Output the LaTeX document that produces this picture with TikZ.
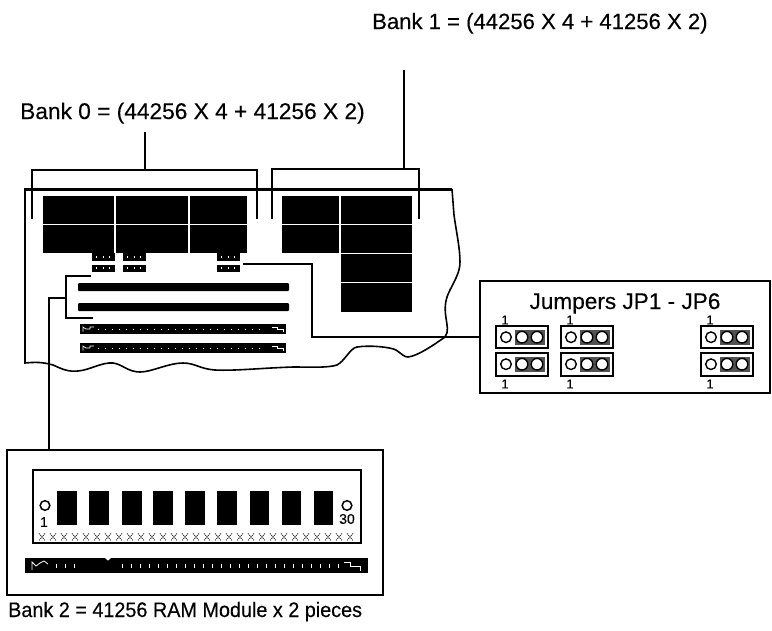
\documentclass[tikz,border=0pt]{standalone}
\usepackage{fontspec}
\setmainfont{Liberation Sans}[FakeBold=0.25]
\begin{document}
\begin{tikzpicture}[x=1pt,y=-1pt,line cap=butt,
  leader/.style={draw=black,line width=1.5pt},
  frame/.style={draw=black,line width=2.7pt,fill=white},
  label/.style={inner sep=0pt,anchor=base west,text=black},
  num/.style={inner sep=0pt,font=\fontsize{13}{13}\selectfont,text=black}]
\useasboundingbox (0,0) rectangle (772,630);
\fill[white] (0,0) rectangle (772,630);
\newcommand{\blk}[4]{\fill[black] (#1,#2) rectangle (#3,#4);}
% headings
\node[label,font=\fontsize{22.1}{22}\selectfont] (bankone) at (372,29) {Bank 1 = (44256 X 4 + 41256 X 2)};
\node[label,font=\fontsize{22.7}{22}\selectfont] (bankzero) at (20,119) {Bank 0 = (44256 X 4 + 41256 X 2)};
\node[label,font=\fontsize{21}{22}\selectfont] (banktwo) at (8,617) {\scalebox{.943}[1]{Bank 2 = 41256 RAM Module x 2 pieces}};
% board outline
\coordinate (btl) at (25,189);
\coordinate (btr) at (452,189);
\draw[line width=1.6pt] (25,189) -- (25,363) .. controls (35,362) and (43,362) .. (53,365)
  .. controls (62,369) and (68,372) .. (78,371) .. controls (90,370) and (102,362) .. (113,363)
  .. controls (122,364) and (128,372) .. (140,372) .. controls (152,372) and (168,363) .. (183,363)
  .. controls (195,363) and (200,369) .. (215,370) .. controls (235,371) and (262,368) .. (293,367)
  .. controls (310,367) and (328,368) .. (337,365) .. controls (345,361) and (350,348) .. (357,347)
  .. controls (370,345) and (390,347) .. (396,350) .. controls (402,354) and (404,357) .. (408,357)
  .. controls (418,356) and (435,344) .. (445,337) .. controls (449,332) and (447,325) .. (446,318)
  .. controls (444,305) and (446,298) .. (450,290) .. controls (455,280) and (460,272) .. (460,262)
  .. controls (460,248) and (456,230) .. (454,215) -- (452,189);
\draw[line width=3pt] (btl) -- (btr);
\draw[line width=2.4pt] (25,188) -- (25,363);
% chips
\foreach \a/\b in {43/114,116/187.5,189.5/247,282/339,341/412}{
  \blk{\a}{196}{\b}{224}\blk{\a}{225}{\b}{253}}
\foreach \a/\b in {341/412}{
  \blk{\a}{254}{\b}{282}\blk{\a}{283}{\b}{312}}
% small jumpers on board
\foreach \a in {92,123,217}{
  \blk{\a}{253}{\a+22.5}{260.5}\blk{\a}{264.5}{\a+22.5}{272}
  \foreach \d in {4,10.5,17}{
    \fill[white] (\a+\d,256) rectangle ++(1.4,2);
    \fill[white] (\a+\d,267.2) rectangle ++(1.4,2);}}
% RAM sockets on board
\foreach \y in {283,303}{\fill[black,rounded corners=1pt] (78,\y) rectangle (289,\y+8);}
\foreach \y in {324,343}{
  \blk{80}{\y}{286}{\y+10}
  \foreach \x in {98,105,...,264}{\fill[white] (\x,\y+4.5) rectangle ++(.9,.9);}
  \draw[white,line width=.7pt] (83,\y+7.5) -- (83,\y+3) -- (86,\y+5) -- (90,\y+5) -- (90,\y+3) -- (94,\y+3);
  \draw[white,line width=.7pt] (272,\y+3) -- (277,\y+3) -- (277,\y+5) -- (283,\y+5) -- (283,\y+8);}
% Bank brackets
\coordinate (bz) at (145,170);
\coordinate (bztop) at (145,132);
\coordinate (bo) at (404,169);
\coordinate (botop) at (404,70);
\draw[leader] (32,219) -- (32,170) -- (257,170) -- (257,219);
\draw[leader] (272,219) -- (272,169) -- (419,169) -- (419,219);
\draw[leader] (bztop) -- (bz);
\draw[leader] (botop) -- (bo);
% Jumper box
\node[frame,minimum width=290pt,minimum height=112pt,inner sep=0pt] (jbox) at (625,337) {};
\node[inner sep=0pt,anchor=base,font=\fontsize{22.6}{22}\selectfont] (jtitle) at (625,309) {Jumpers JP1 - JP6};
\foreach \x/\n in {496/a,561/b,701/c}{
  \foreach \y in {326,353}{
    \draw[black,line width=1.7pt] (\x,\y) rectangle ++(52,\ifnum\y=326 22\else 23\fi);
    \fill[black!68] (\x+19,\y+3.5) rectangle ++(30,15.5);
    \draw[black,line width=1.4pt,fill=white] (\x+10,\y+11.2) circle (5.3);
    \draw[black,line width=1.4pt,fill=white] (\x+26,\y+11.2) circle (5.8);
    \draw[black,line width=1.4pt,fill=white] (\x+41,\y+11.2) circle (5.8);}
  \node[num] (ja\n) at (\x+9,320) {1};
  \node[num] (jb\n) at (\x+9,384) {1};}
% leader to jumper box
\coordinate (jl) at (243,264);
\draw[leader] (jl) -- (312,264) -- (312,337) -- (jbox.west);
% Module box
\node[frame,minimum width=376pt,minimum height=145pt,inner sep=0pt] (mbox) at (195,522.5) {};
\draw[leader] (33,470) rectangle (361,543);
\foreach \x in {57,89,122,153,185,217,249.5,281.5,313.5}{\blk{\x}{491}{\x+19.5}{525}}
\draw[black,line width=1.5pt] (45,505.5) circle (4.8);
\draw[black,line width=1.5pt] (347,505.5) circle (4.8);
\node[num,font=\fontsize{14}{14}\selectfont] (one) at (44,522) {1};
\node[num,font=\fontsize{14}{14}\selectfont] (thirty) at (347,519) {30};
\foreach \x in {42,53,...,360}{
  \draw[black!85,line width=1pt,densely dotted] (\x-3,533.5) -- (\x+3,540.5);
  \draw[black!85,line width=1pt,densely dotted] (\x+3,533.5) -- (\x-3,540.5);}
\blk{25}{558}{368}{573}
\fill[white] (105,558) -- (108,560.5) -- (111,558) -- cycle;
\foreach \x in {56,65,...,75}{\fill[white] (\x,564) rectangle ++(.9,4);}
\foreach \x in {122,131,...,340}{\fill[white] (\x,564) rectangle ++(.9,4);}
\draw[white,line width=.8pt] (32,570) -- (32,562) -- (36,566) -- (40,563) -- (44,561) -- (48,564);
\draw[white,line width=.8pt] (344,562) -- (350,562) -- (350,566) -- (360,566) -- (360,571);
% Bank 2 bracket
\coordinate (bt) at (66,298);
\draw[leader] (91,276) -- (66,276) -- (66,318) -- (93,318);
\draw[leader] (bt) -- (49,298) -- (mbox.north -| 49,0);
\end{tikzpicture}
\end{document}
